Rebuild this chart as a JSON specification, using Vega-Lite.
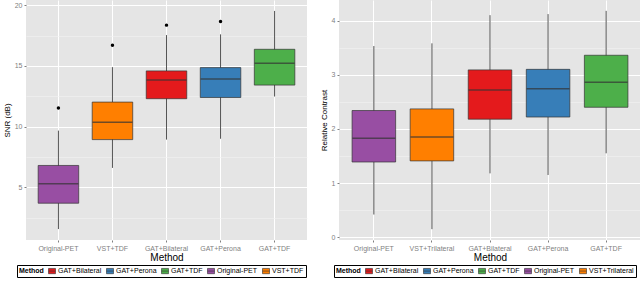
{
  "$schema": "https://vega.github.io/schema/vega-lite/v6.json",
  "padding": {"left": 3, "top": 0, "right": 0, "bottom": 0},
  "datasets": {
    "snr": [
      {"method": "Original-PET", "lo": 1.56, "q1": 3.69, "med": 5.3, "q3": 6.8, "hi": 9.67},
      {"method": "VST+TDF", "lo": 6.6, "q1": 8.93, "med": 10.35, "q3": 12.02, "hi": 14.9},
      {"method": "GAT+Bilateral", "lo": 8.93, "q1": 12.3, "med": 13.83, "q3": 14.59, "hi": 17.54},
      {"method": "GAT+Perona", "lo": 9.0, "q1": 12.4, "med": 13.93, "q3": 14.86, "hi": 17.6},
      {"method": "GAT+TDF", "lo": 12.48, "q1": 13.42, "med": 15.22, "q3": 16.37, "hi": 19.53}
    ],
    "snrOut": [
      {"method": "Original-PET", "v": 11.53},
      {"method": "VST+TDF", "v": 16.7},
      {"method": "GAT+Bilateral", "v": 18.36},
      {"method": "GAT+Perona", "v": 18.66}
    ],
    "rc": [
      {"method": "Original-PET", "lo": 0.42, "q1": 1.39, "med": 1.83, "q3": 2.34, "hi": 3.53},
      {"method": "VST+Trilateral", "lo": 0.15, "q1": 1.41, "med": 1.85, "q3": 2.37, "hi": 3.58},
      {"method": "GAT+Bilateral", "lo": 1.18, "q1": 2.18, "med": 2.72, "q3": 3.09, "hi": 4.10},
      {"method": "GAT+Perona", "lo": 1.15, "q1": 2.22, "med": 2.74, "q3": 3.10, "hi": 4.12},
      {"method": "GAT+TDF", "lo": 1.55, "q1": 2.40, "med": 2.86, "q3": 3.36, "hi": 4.18}
    ]
  },
  "spacing": 13,
  "resolve": {"scale": {"color": "independent"}, "legend": {"color": "independent"}},
  "hconcat": [
    {
      "width": 281,
      "height": 240,
      "resolve": {"axis": {"y": "independent"}},
      "layer": [
        {
          "data": {"name": "snr"},
          "mark": {"type": "rule", "color": "#555555", "strokeWidth": 1},
          "encoding": {
            "x": {"field": "method", "type": "nominal", "title": "Method", "sort": ["Original-PET", "VST+TDF", "GAT+Bilateral", "GAT+Perona", "GAT+TDF"], "scale": {"paddingInner": 0.25, "paddingOuter": 0.225}, "axis": {"grid": true, "bandPosition": 0.5, "labelAngle": 0}},
            "y": {"field": "lo", "type": "quantitative", "title": "SNR (dB)", "scale": {"domain": [0.66, 20.43], "nice": false, "zero": false}, "axis": {"orient": "right", "values": [2.5, 7.5, 12.5, 17.5], "labels": false, "ticks": false, "title": null, "grid": true, "gridColor": "#F2F2F2", "gridWidth": 0.6}},
            "y2": {"field": "hi"}
          }
        },
        {
          "data": {"name": "snr"},
          "mark": {"type": "bar", "stroke": "#333333", "strokeWidth": 0.7},
          "encoding": {
            "x": {"field": "method", "type": "nominal", "title": "Method", "sort": ["Original-PET", "VST+TDF", "GAT+Bilateral", "GAT+Perona", "GAT+TDF"], "scale": {"paddingInner": 0.25, "paddingOuter": 0.225}, "axis": {"grid": true, "bandPosition": 0.5, "labelAngle": 0}},
            "y": {"field": "q1", "type": "quantitative", "title": "SNR (dB)", "axis": {"orient": "left", "values": [5, 10, 15, 20], "grid": true}},
            "y2": {"field": "q3"},
            "color": {"field": "method", "type": "nominal", "title": "Method",
              "scale": {"domain": ["GAT+Bilateral", "GAT+Perona", "GAT+TDF", "Original-PET", "VST+TDF"], "range": ["#E41A1C", "#377EB8", "#4DAF4A", "#984EA3", "#FF7F00"]},
              "legend": {"orient": "none", "legendX": -9, "legendY": 265}}
          }
        },
        {
          "data": {"name": "snr"},
          "mark": {"type": "tick", "color": "#333333", "thickness": 1.5, "size": 40},
          "encoding": {
            "x": {"field": "method", "type": "nominal", "title": "Method", "sort": ["Original-PET", "VST+TDF", "GAT+Bilateral", "GAT+Perona", "GAT+TDF"]},
            "y": {"field": "med", "type": "quantitative", "title": "SNR (dB)", "axis": null}
          }
        },
        {
          "data": {"name": "snrOut"},
          "mark": {"type": "circle", "color": "#000000", "opacity": 1, "size": 12},
          "encoding": {
            "x": {"field": "method", "type": "nominal", "title": "Method", "sort": ["Original-PET", "VST+TDF", "GAT+Bilateral", "GAT+Perona", "GAT+TDF"]},
            "y": {"field": "v", "type": "quantitative", "title": "SNR (dB)", "axis": null}
          }
        }
      ]
    },
    {
      "width": 302,
      "height": 240,
      "resolve": {"axis": {"y": "independent"}},
      "layer": [
        {
          "data": {"name": "rc"},
          "mark": {"type": "rule", "color": "#555555", "strokeWidth": 1},
          "encoding": {
            "x": {"field": "method", "type": "nominal", "title": "Method", "sort": ["Original-PET", "VST+Trilateral", "GAT+Bilateral", "GAT+Perona", "GAT+TDF"], "scale": {"paddingInner": 0.25, "paddingOuter": 0.225}, "axis": {"grid": true, "bandPosition": 0.5, "labelAngle": 0}},
            "y": {"field": "lo", "type": "quantitative", "title": "Relative Contrast", "scale": {"domain": [-0.05, 4.38], "nice": false, "zero": false}, "axis": {"orient": "right", "values": [0.5, 1.5, 2.5, 3.5], "labels": false, "ticks": false, "title": null, "grid": true, "gridColor": "#F2F2F2", "gridWidth": 0.6}},
            "y2": {"field": "hi"}
          }
        },
        {
          "data": {"name": "rc"},
          "mark": {"type": "bar", "stroke": "#333333", "strokeWidth": 0.7},
          "encoding": {
            "x": {"field": "method", "type": "nominal", "title": "Method", "sort": ["Original-PET", "VST+Trilateral", "GAT+Bilateral", "GAT+Perona", "GAT+TDF"], "scale": {"paddingInner": 0.25, "paddingOuter": 0.225}, "axis": {"grid": true, "bandPosition": 0.5, "labelAngle": 0}},
            "y": {"field": "q1", "type": "quantitative", "title": "Relative Contrast", "axis": {"orient": "left", "values": [0, 1, 2, 3, 4], "grid": true}},
            "y2": {"field": "q3"},
            "color": {"field": "method", "type": "nominal", "title": "Method",
              "scale": {"domain": ["GAT+Bilateral", "GAT+Perona", "GAT+TDF", "Original-PET", "VST+Trilateral"], "range": ["#E41A1C", "#377EB8", "#4DAF4A", "#984EA3", "#FF7F00"]},
              "legend": {"orient": "none", "legendX": -5, "legendY": 265}}
          }
        },
        {
          "data": {"name": "rc"},
          "mark": {"type": "tick", "color": "#333333", "thickness": 1.5, "size": 43},
          "encoding": {
            "x": {"field": "method", "type": "nominal", "title": "Method", "sort": ["Original-PET", "VST+Trilateral", "GAT+Bilateral", "GAT+Perona", "GAT+TDF"]},
            "y": {"field": "med", "type": "quantitative", "title": "Relative Contrast", "axis": null}
          }
        }
      ]
    }
  ],
  "config": {
    "font": "Liberation Sans",
    "view": {"fill": "#E5E5E5", "stroke": null},
    "axis": {"domain": false, "labelColor": "#7F7F7F", "labelFontSize": 7, "tickColor": "#7F7F7F", "tickSize": 2, "gridColor": "#FFFFFF", "gridWidth": 1, "titleFontWeight": "normal", "titleColor": "#000000", "titleFontSize": 8, "labelPadding": 2},
    "axisX": {"titleFontSize": 10, "titlePadding": 1},
    "axisY": {"titlePadding": 3},
    "legend": {"direction": "horizontal", "titleOrient": "left", "strokeColor": "#000000", "padding": 2, "symbolType": "M-1,-0.75L1,-0.75L1,0.75L-1,0.75Z M-1,0L1,0", "symbolSize": 49, "symbolStrokeColor": "#333333", "symbolStrokeWidth": 0.6, "labelFontSize": 7, "titleFontSize": 7, "titleFontWeight": "bold", "columnPadding": 3, "labelOffset": 2, "titlePadding": 4, "labelColor": "#000000", "titleColor": "#000000"}
  }
}
